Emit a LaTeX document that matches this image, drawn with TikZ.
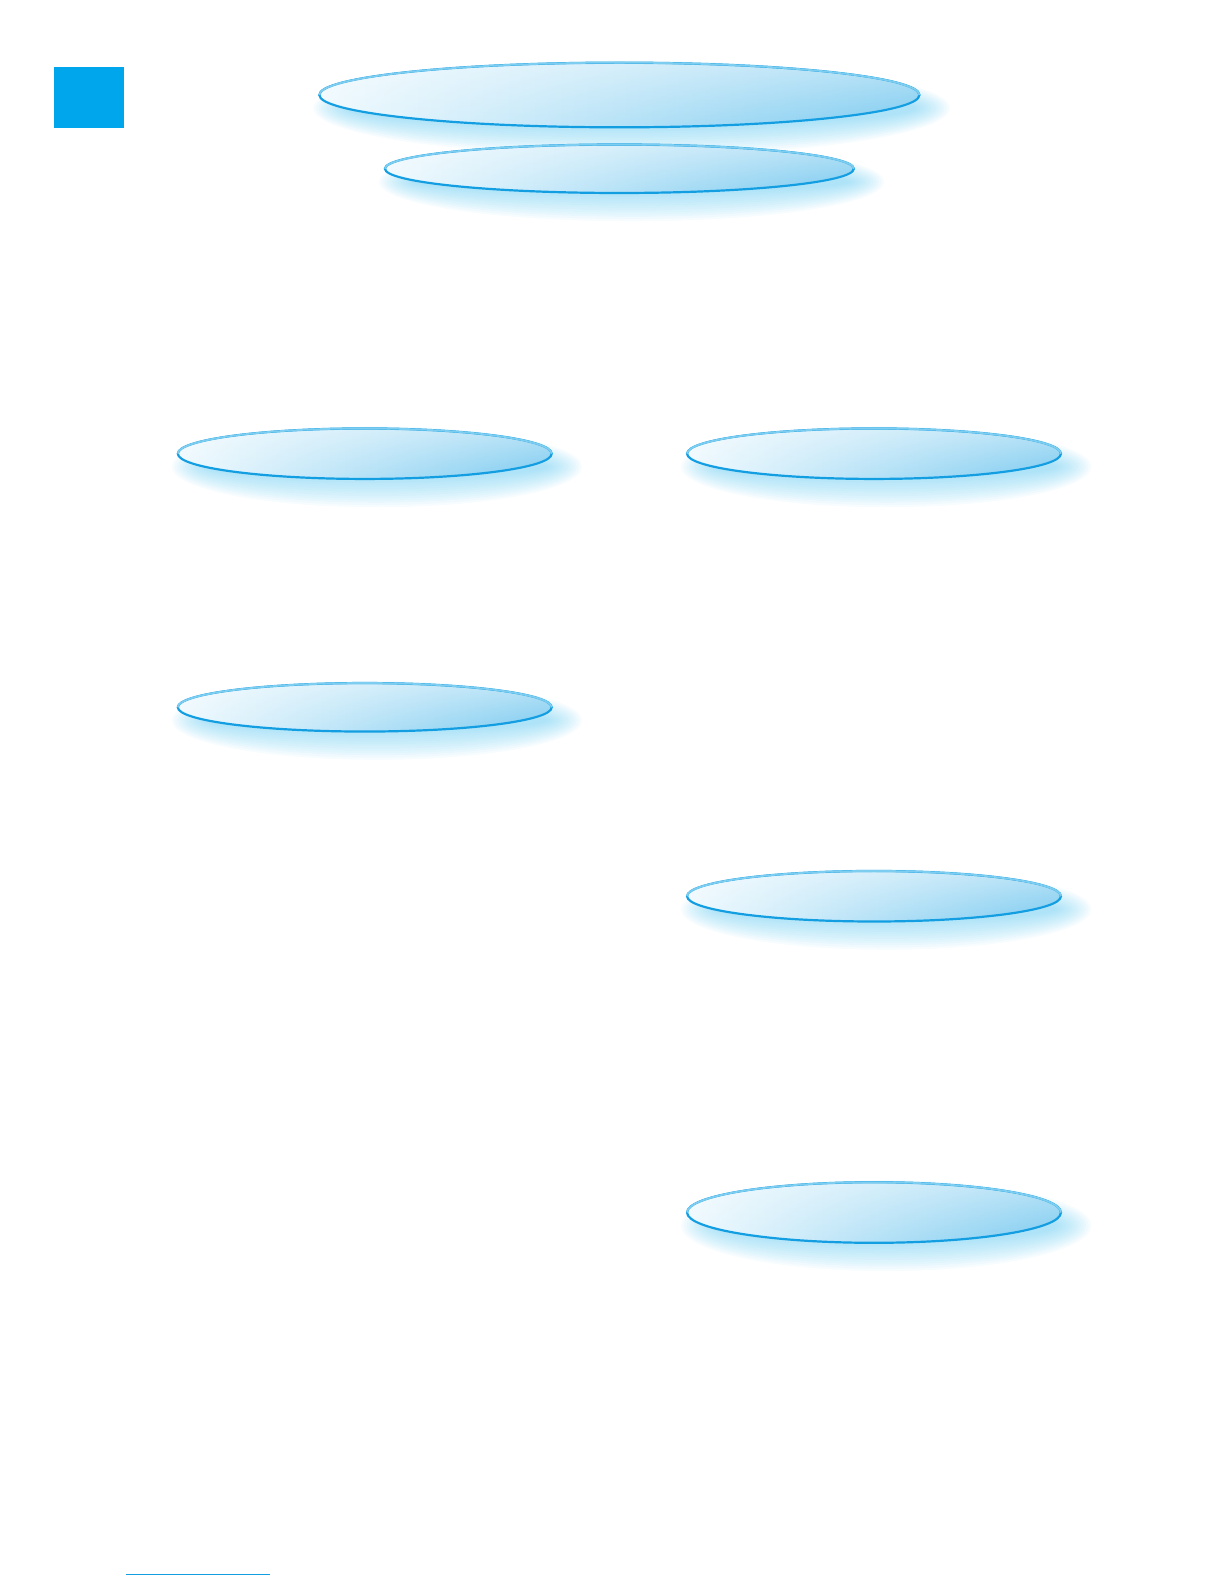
\documentclass[tikz,border=0pt]{standalone}
\usetikzlibrary{shapes.geometric,fadings}
\definecolor{lensline}{RGB}{20,158,226}
\definecolor{lenstopline}{RGB}{125,205,240}
\definecolor{lensL}{RGB}{238,249,254}
\definecolor{lensR}{RGB}{125,203,240}
\definecolor{lensshadow}{RGB}{110,205,242}
\definecolor{sqblue}{RGB}{0,166,235}
\tikzset{
  lens/.style={ellipse, draw=lensline, line width=2.2pt, left color=lensL, right color=lensR, inner sep=0pt},
  lensshade/.style={fill=lensshadow, fill opacity=0.055},
  lenstop/.style={draw=lenstopline, line width=1.8pt},
  lensgloss/.style={fill=white, path fading=south, fill opacity=0.45},
}
\def\sc{1.0104}
\newcommand{\lensnode}[5]{%
  \foreach \k in {0,...,13}{%
    \fill[lensshade] ({#2+12},{-(#3)-13}) ellipse ({#4+18-2.6*\k} and {#5+15-2.2*\k});
  }
  \node[lens, minimum width={2*#4*\sc pt}, minimum height={2*#5*\sc pt}] (#1) at (#2,-#3) {};
  \fill[lensgloss] (#2,-#3) ellipse ({#4-1.5} and {#5-1.5});
  \draw[lenstop] ({#2-#4},-#3) arc (180:0:{#4} and {#5});
}
\begin{document}
\begin{tikzpicture}[x=1.0104pt,y=1.0104pt]
\useasboundingbox (0pt,0pt) rectangle (1224pt,-1584pt);
\node[fill=sqblue, minimum width=70.7pt, minimum height=61.6pt, inner sep=0pt, anchor=north west] (sq) at (53,-66) {};
\lensnode{t1}{613}{94}{297}{32}
\lensnode{t2}{613}{167}{232}{24}
\lensnode{l1}{361}{449}{185}{25}
\lensnode{r1}{865}{449}{185}{25}
\lensnode{l2}{361}{700}{185}{24}
\lensnode{r2}{865}{887}{185}{25}
\lensnode{r3}{865}{1200}{185}{30}
\coordinate (fa) at (125,-1558);
\coordinate (fb) at (267,-1558);
\draw[lensline, line width=0.8pt] (fa) -- (fb);
\end{tikzpicture}
\end{document}
